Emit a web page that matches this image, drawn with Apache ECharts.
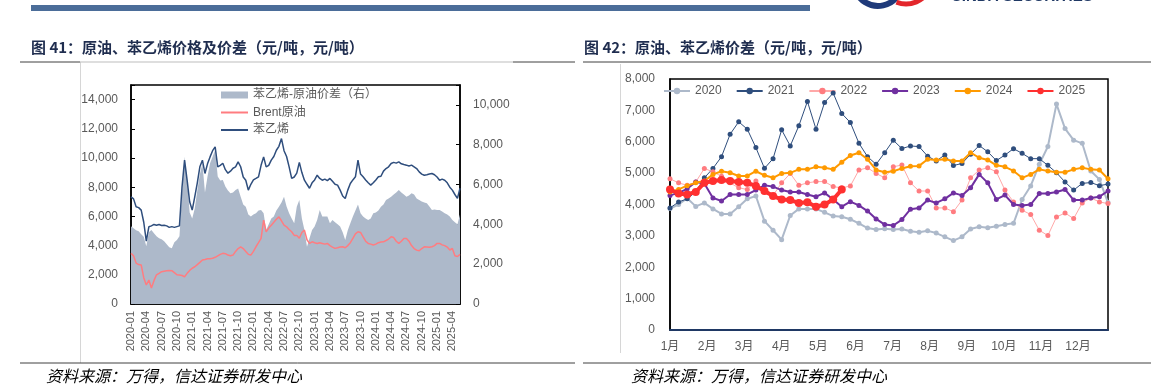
<!DOCTYPE html>
<html><head><meta charset="utf-8">
<script src="https://cdn.jsdelivr.net/npm/echarts/dist/echarts.min.js"></script>
<style>html,body{margin:0;padding:0;background:#fff}#c{width:1151px;height:388px}</style>
</head><body><div id="c"></div><script>
// ---------- Left chart (图41) : semi-monthly samples ----------
const dates = [
'2020-01-01','2020-01-16','2020-02-01','2020-02-16','2020-03-01','2020-03-16','2020-04-01','2020-04-16','2020-05-01','2020-05-16','2020-06-01','2020-06-16',
'2020-07-01','2020-07-16','2020-08-01','2020-08-16','2020-09-01','2020-09-16','2020-10-01','2020-10-16','2020-11-01','2020-11-16','2020-12-01','2020-12-16',
'2021-01-01','2021-01-16','2021-02-01','2021-02-16','2021-03-01','2021-03-16','2021-04-01','2021-04-16','2021-05-01','2021-05-16','2021-06-01','2021-06-16',
'2021-07-01','2021-07-16','2021-08-01','2021-08-16','2021-09-01','2021-09-16','2021-10-01','2021-10-16','2021-11-01','2021-11-16','2021-12-01','2021-12-16',
'2022-01-01','2022-01-16','2022-02-01','2022-02-16','2022-03-01','2022-03-16','2022-04-01','2022-04-16','2022-05-01','2022-05-16','2022-06-01','2022-06-16',
'2022-07-01','2022-07-16','2022-08-01','2022-08-16','2022-09-01','2022-09-16','2022-10-01','2022-10-16','2022-11-01','2022-11-16','2022-12-01','2022-12-16',
'2023-01-01','2023-01-16','2023-02-01','2023-02-16','2023-03-01','2023-03-16','2023-04-01','2023-04-16','2023-05-01','2023-05-16','2023-06-01','2023-06-16',
'2023-07-01','2023-07-16','2023-08-01','2023-08-16','2023-09-01','2023-09-16','2023-10-01','2023-10-16','2023-11-01','2023-11-16','2023-12-01','2023-12-16',
'2024-01-01','2024-01-16','2024-02-01','2024-02-16','2024-03-01','2024-03-16','2024-04-01','2024-04-16','2024-05-01','2024-05-16','2024-06-01','2024-06-16',
'2024-07-01','2024-07-16','2024-08-01','2024-08-16','2024-09-01','2024-09-16','2024-10-01','2024-10-16','2024-11-01','2024-11-16','2024-12-01','2024-12-16',
'2025-01-01','2025-01-16','2025-02-01','2025-02-16','2025-03-01','2025-03-16','2025-04-01','2025-04-16','2025-05-01','2025-05-16'
];
const styrene = [
7340,7200,6660,6600,6430,5600,4300,5290,5350,5450,
5400,5450,5380,5400,5350,5250,5300,5250,5300,5350,
8000,9850,8480,7000,6430,7340,8300,9400,9850,8940,
9600,10075,10500,10760,9390,9500,9640,9200,8960,9100,
9300,9390,9730,9400,8700,8480,7800,8200,8500,8600,
8710,9500,10075,9390,9500,9850,10100,10530,10800,11330,
10500,10100,9390,8600,8700,8960,9700,9000,8480,8200,
7930,8300,8500,8820,8600,8480,8550,8450,8600,8400,
8200,8140,7800,7400,7230,7800,8250,8500,8710,9850,
8900,8710,8500,8300,8140,8300,8500,8710,8750,9100,
9280,9400,9620,9700,9650,9730,9600,9550,9510,9450,
9510,9400,9280,9050,8900,8820,8850,8900,8940,8850,
8700,8480,8550,8480,8300,8000,7800,7500,7230,7930
];
const brent = [
3470,3300,2800,2700,2670,1800,1300,1640,1100,1600,
2000,2100,2210,2250,2280,2300,2280,2150,2000,1980,
1950,1870,2100,2300,2450,2550,2700,2850,3010,3050,
3100,3100,3130,3200,3300,3400,3470,3450,3350,3300,
3350,3600,3800,3920,3800,3600,3400,3350,3600,3920,
4200,4490,5750,4950,5200,5400,5600,5800,5970,5700,
5400,5290,5100,4950,4700,4700,4500,4900,5060,4400,
4150,4260,4200,4150,4200,4150,4100,4150,4000,3900,
3810,3850,3900,3920,3850,4000,4200,4500,4800,4950,
4900,4600,4300,4150,4100,4040,4100,4200,4250,4260,
4350,4450,4600,4550,4300,4150,4300,4490,4490,4300,
4000,3800,3690,3650,3800,3920,3900,3880,3920,4000,
4150,4150,4050,4000,3900,3700,3800,3300,3250,3400
];
const spread = [
3900,3800,3700,3650,3500,3380,2900,3600,3720,3550,
3400,3300,3250,3150,3000,2850,2800,3100,3220,3400,
5500,7400,6200,4600,4300,4800,5700,6500,7070,5600,
6400,7070,7400,7740,6400,6200,6230,5900,5700,5560,
5600,5730,5800,5390,5000,4890,4500,4390,4500,4560,
4700,4720,4560,3720,4000,4300,4390,4700,4890,5100,
5390,4900,4560,4300,4060,4890,5230,4300,3720,2880,
3300,3720,3890,4220,4720,4400,4390,4400,4060,4220,
4100,4000,3890,3600,3220,3700,4060,4400,4700,5000,
4560,4400,4300,4220,4300,4560,4600,4700,4890,5000,
5230,5300,5390,5500,5600,5730,5600,5500,5390,5450,
5560,5500,5300,5230,5150,5100,5060,4900,4720,4750,
4720,4720,4650,4560,4500,4400,4220,4100,4000,4500
];
// ---------- Right chart (图42) : weekly spread by year ----------
const monthLabels = ['1月','2月','3月','4月','5月','6月','7月','8月','9月','10月','11月','12月'];
const y2020 = [3870,4000,4200,3940,4050,3860,3700,3700,3930,4180,
4270,3470,3180,2880,3650,3860,3860,3860,3750,3630,
3610,3530,3400,3250,3200,3230,3200,3220,3150,3115,
3160,3090,2970,2850,2970,3220,3290,3260,3310,3360,
3400,4160,4590,5280,5850,7200,6420,6050,5950,5070,
4800,4060];
const y2021 = [3890,4080,4180,4400,4850,5150,5525,6240,6635,6400,
5813,5152,5461,6379,5867,6507,7285,6400,7253,7552,
6901,6613,5952,5525,5280,5653,6048,5781,5867,5845,
5540,5387,5580,5240,5310,5600,5880,5680,5400,5575,
5780,5630,5461,5461,5248,5013,4715,4459,4672,4700,
4600,4650];
const y2022 = [4820,4690,4610,4715,5150,5040,4900,4690,4530,4480,
4750,4400,4290,4690,4990,4610,4690,4730,4730,4570,
4530,4590,5100,5170,4990,4850,5200,5260,4690,4430,
4430,3890,3890,3770,4140,4850,5100,5170,5040,4460,
4080,3820,3680,3180,3010,3600,3730,3550,4050,4210,
4080,4030];
const y2023 = [4290,4370,4500,4720,4670,4210,4110,4320,4320,4320,
4460,4610,4570,4460,4400,4400,4320,4250,4370,4160,
3930,4090,3970,3790,3540,3360,3330,3520,3850,3890,
4140,4050,4180,4370,4290,4530,4960,4690,4160,4300,
4000,3970,4000,4350,4350,4400,4480,4140,4140,4210,
4250,4430];
const y2024 = [4400,4480,4600,4690,4750,4960,5060,5010,4910,4910,
5060,4930,4850,4990,5010,5120,5120,5200,5170,5120,
5350,5560,5650,5440,5100,5030,5060,5150,5220,5230,
5440,5420,5440,5390,5390,5650,5490,5420,5250,5200,
5070,4850,4960,5120,5070,5030,5030,5120,5170,5120,
5100,4820];
const y2025 = [4480,4350,4320,4400,4690,4750,4780,4750,4715,4690,
4590,4430,4270,4160,4140,4050,4075,3930,4000,4160,4480];

// ---------- build ----------
const chart = echarts.init(document.getElementById('c'), null, {renderer:'canvas', width:1151, height:388});
const NUMF = "'Liberation Sans','Noto Sans CJK SC',sans-serif";
const CJK = "'Noto Sans CJK SC',sans-serif";
const GRAY = '#595959';
const fmt = v => Number(v).toLocaleString('en-US');
const quarterStart = (i) => { const d = dates[i]; const m = +d.slice(5,7); return d.slice(8) === '01' && (m - 1) % 3 === 0; };
const MONTH_STEP = 4.3192;
const monthFmt = v => { const k = Math.round(v / MONTH_STEP); return (Math.abs(v - k * MONTH_STEP) < 0.05 && k >= 0 && k < monthLabels.length) ? monthLabels[k] : ''; };
const pairs = arr => arr.map((v, i) => [i, v]);

const years = [
  {name:'2020', data:y2020, color:'#ADB9CA', item:'#ADB9CA', w:2, s:5},
  {name:'2021', data:y2021, color:'#2F4E7D', item:'#2F4E7D', w:1, s:5},
  {name:'2022', data:y2022, color:'#FFA8A8', item:'#FF7C80', w:1, s:5},
  {name:'2023', data:y2023, color:'#7030A0', item:'#7030A0', w:2, s:5},
  {name:'2024', data:y2024, color:'#FF9A00', item:'#FF9A00', w:2, s:5},
  {name:'2025', data:y2025, color:'#FF3030', item:'#FF3030', w:4, s:8}
];

const option = {
  animation: false,
  backgroundColor: '#fff',
  grid: [
    {left:131, top:85, width:329, height:219, show:true, borderColor:'#000', borderWidth:1.5, backgroundColor:'transparent', outerBoundsMode:'none'},
    {left:670, top:79, width:438, height:251, show:true, borderColor:'#000', borderWidth:1.5, backgroundColor:'transparent', outerBoundsMode:'none'}
  ],
  legend: [
    {orient:'vertical', left:220, top:89, padding:0, itemWidth:27, itemHeight:7, itemGap:5.5,
     textStyle:{fontSize:12, color:GRAY, fontFamily:NUMF},
     data:[{name:'苯乙烯-原油价差（右）', icon:'rect'},
           {name:'Brent原油', itemStyle:{opacity:0}},
           {name:'苯乙烯', itemStyle:{opacity:0}}]},
    {orient:'horizontal', left:663, top:85, padding:0, itemWidth:26, itemHeight:8, itemGap:14,
     textStyle:{fontSize:12, color:GRAY, fontFamily:NUMF},
     data: years.map(y => y.name)}
  ],
  xAxis: [
    {gridIndex:0, type:'category', data:dates, boundaryGap:false,
     axisLine:{show:true, lineStyle:{color:'#000', width:1.5}},
     axisTick:{show:true, inside:true, length:4, interval:quarterStart, lineStyle:{color:'#000'}},
     axisLabel:{interval:quarterStart, rotate:90, formatter:v => v.slice(0,7), fontSize:11, color:GRAY, margin:7, fontFamily:NUMF},
     splitLine:{show:false}},
    {gridIndex:1, type:'value', min:0, max:51, interval:MONTH_STEP,
     axisLine:{show:true, onZero:false, lineStyle:{color:'#1F3864', width:2}},
     axisTick:{show:false}, splitLine:{show:false},
     axisLabel:{formatter:monthFmt, fontSize:12, color:GRAY, margin:11, fontFamily:NUMF, showMaxLabel:false}}
  ],
  yAxis: [
    {gridIndex:0, type:'value', position:'left', min:0, max:15000, interval:2000,
     axisLine:{show:true, lineStyle:{color:'#000', width:1.5}},
     axisTick:{show:true, inside:true, length:4, lineStyle:{color:'#000'}},
     splitLine:{show:false},
     axisLabel:{formatter:v => v >= 15000 ? '' : fmt(v), fontSize:12, color:GRAY, margin:13, fontFamily:NUMF}},
    {gridIndex:0, type:'value', position:'right', min:0, max:11000, interval:2000,
     axisLine:{show:true, lineStyle:{color:'#000', width:1.5}},
     axisTick:{show:true, inside:true, length:4, lineStyle:{color:'#000'}},
     splitLine:{show:false},
     axisLabel:{formatter:v => v >= 11000 ? '' : fmt(v), fontSize:12, color:GRAY, margin:13, fontFamily:NUMF}},
    {gridIndex:1, type:'value', min:0, max:8000, interval:1000,
     axisLine:{show:true, lineStyle:{color:'#000', width:1.5}},
     axisTick:{show:false}, splitLine:{show:false},
     axisLabel:{formatter:fmt, fontSize:12, color:GRAY, margin:15, fontFamily:NUMF}}
  ],
  series: [
    {name:'苯乙烯-原油价差（右）', type:'line', xAxisIndex:0, yAxisIndex:1, data:spread,
     symbol:'none', lineStyle:{width:0, color:'#ADB9CA'}, itemStyle:{color:'#ADB9CA'},
     areaStyle:{color:'#ADB9CA', opacity:1}, z:1},
    {name:'Brent原油', type:'line', xAxisIndex:0, yAxisIndex:0, data:brent,
     symbol:'none', lineStyle:{width:1.5, color:'#FF7C80'}, itemStyle:{color:'#FF7C80'}, z:3},
    {name:'苯乙烯', type:'line', xAxisIndex:0, yAxisIndex:0, data:styrene,
     symbol:'none', lineStyle:{width:1.5, color:'#2F4E7D'}, itemStyle:{color:'#2F4E7D'}, z:4}
  ].concat(years.map((y, k) => ({
     name:y.name, type:'line', xAxisIndex:1, yAxisIndex:2, data:pairs(y.data),
     symbol:'circle', symbolSize:y.s, showSymbol:true,
     lineStyle:{width:y.w, color:y.color}, itemStyle:{color:y.item}, z:3 + k
  }))),
  graphic: [
    {type:'rect', z:0, shape:{x:31, y:5, width:779, height:6}, style:{fill:'#4B6D99'}},
    {type:'arc', z:0, shape:{cx:878, cy:-18, r:24, startAngle:0.18*Math.PI, endAngle:0.9*Math.PI}, style:{stroke:'#1F3A7A', lineWidth:6, fill:null}},
    {type:'arc', z:0, shape:{cx:906, cy:-22, r:26, startAngle:0.12*Math.PI, endAngle:0.62*Math.PI}, style:{stroke:'#E3262B', lineWidth:5, fill:null}},
    {type:'text', z:0, style:{text:'CINDA SECURITIES', x:951, y:-3, fontSize:15, fontWeight:'bold', fontFamily:NUMF, fill:'#1F3864', verticalAlign:'middle'}},
    {type:'line', z:0, shape:{x1:80.5, y1:62, x2:80.5, y2:363}, style:{stroke:'#D6D6D6', lineWidth:1}},
    {type:'line', z:0, shape:{x1:620.5, y1:64, x2:620.5, y2:353}, style:{stroke:'#D6D6D6', lineWidth:1}},
    {type:'text', z:5, style:{text:'图 41：原油、苯乙烯价格及价差（元/吨，元/吨）', x:31, y:47, fontSize:15, fontWeight:'bold', fontFamily:CJK, fill:'#1F2D4F', verticalAlign:'middle'}},
    {type:'text', z:5, style:{text:'图 42：原油、苯乙烯价差（元/吨，元/吨）', x:584, y:47, fontSize:15, fontWeight:'bold', fontFamily:CJK, fill:'#1F2D4F', verticalAlign:'middle'}},
    {type:'line', z:5, shape:{x1:20, y1:62, x2:80, y2:62}, style:{stroke:'#404040', lineWidth:1}},
    {type:'line', z:5, shape:{x1:80, y1:62, x2:513, y2:62}, style:{stroke:'#BDBDBD', lineWidth:1}},
    {type:'line', z:5, shape:{x1:513, y1:62, x2:575, y2:62}, style:{stroke:'#404040', lineWidth:1}},
    {type:'line', z:5, shape:{x1:583, y1:62, x2:1151, y2:62}, style:{stroke:'#404040', lineWidth:1}},
    {type:'line', z:5, shape:{x1:20, y1:363, x2:575, y2:363}, style:{stroke:'#404040', lineWidth:1}},
    {type:'line', z:5, shape:{x1:583, y1:363, x2:1151, y2:363}, style:{stroke:'#404040', lineWidth:1}},
    {type:'text', z:5, style:{text:'资料来源：万得，信达证券研发中心', x:46, y:376, fontSize:16, fontStyle:'italic', fontFamily:CJK, fill:'#000', verticalAlign:'middle'}},
    {type:'text', z:5, style:{text:'资料来源：万得，信达证券研发中心', x:631, y:376, fontSize:16, fontStyle:'italic', fontFamily:CJK, fill:'#000', verticalAlign:'middle'}}
  ]
};
chart.setOption(option);
</script></body></html>
